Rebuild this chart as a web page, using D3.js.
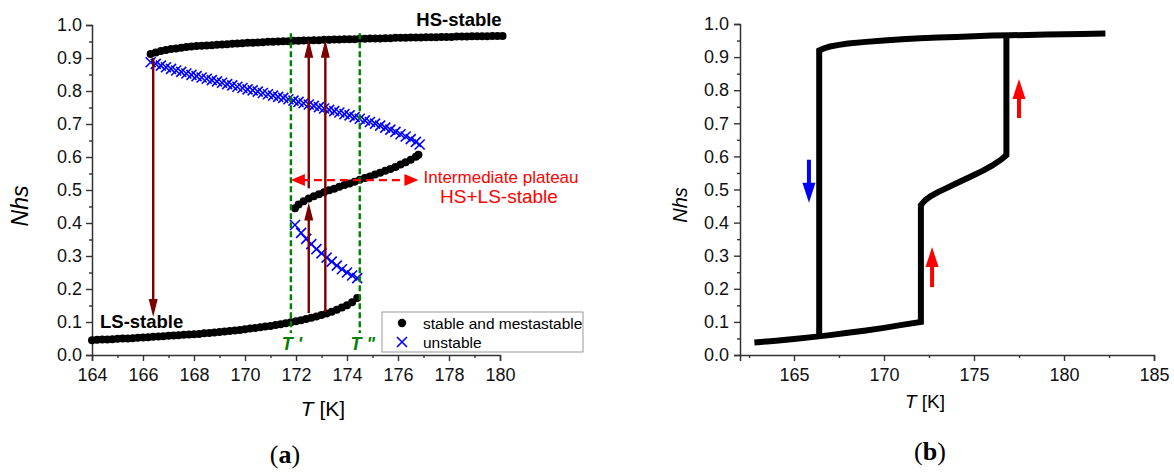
<!DOCTYPE html>
<html>
<head>
<meta charset="utf-8">
<script src="https://cdn.jsdelivr.net/npm/d3@7"></script>
<style>
  body { margin: 0; background: #fff; }
  text { font-family: "Liberation Sans", Arial, sans-serif; }
</style>
</head>
<body>
<script>
var width = 1174,
    height = 473;

// ---- panel (a) : model branches, [T, Nhs] ----
var hsStable = [
  [166.3,0.912],[166.5,0.917],[166.7,0.921],[166.9,0.924],[167.1,0.927],[167.3,0.929],[167.5,0.931],
  [167.7,0.933],[167.9,0.935],[168.1,0.936],[168.3,0.937],[168.5,0.938],[168.7,0.939],[168.9,0.940],
  [169.1,0.941],[169.3,0.942],[169.5,0.943],[169.7,0.944],[169.9,0.945],[170.1,0.946],[170.3,0.946],
  [170.5,0.947],[170.7,0.948],[170.9,0.949],[171.1,0.949],[171.3,0.950],[171.5,0.951],[171.7,0.951],
  [171.9,0.952],[172.1,0.952],[172.3,0.953],[172.5,0.953],[172.7,0.954],[172.9,0.954],[173.1,0.955],
  [173.3,0.955],[173.5,0.956],[173.7,0.956],[173.9,0.957],[174.1,0.957],[174.3,0.957],[174.5,0.958],
  [174.7,0.958],[174.9,0.959],[175.1,0.959],[175.3,0.959],[175.5,0.960],[175.7,0.960],[175.9,0.961],
  [176.1,0.961],[176.3,0.961],[176.5,0.962],[176.7,0.962],[176.9,0.962],[177.1,0.963],[177.3,0.963],
  [177.5,0.963],[177.7,0.964],[177.9,0.964],[178.1,0.964],[178.3,0.965],[178.5,0.965],[178.7,0.965],
  [178.9,0.966],[179.1,0.966],[179.3,0.966],[179.5,0.966],[179.7,0.967],[179.9,0.967],[180.1,0.967]
];

var lsStable = [
  [164.0,0.045],[164.2,0.046],[164.4,0.047],[164.6,0.047],[164.8,0.048],[165.0,0.049],[165.2,0.050],
  [165.4,0.050],[165.6,0.051],[165.8,0.052],[166.0,0.053],[166.2,0.054],[166.4,0.055],[166.6,0.056],
  [166.8,0.057],[167.0,0.058],[167.2,0.059],[167.4,0.060],[167.6,0.061],[167.8,0.062],[168.0,0.063],
  [168.2,0.064],[168.4,0.066],[168.6,0.067],[168.8,0.068],[169.0,0.070],[169.2,0.071],[169.4,0.073],
  [169.6,0.074],[169.8,0.076],[170.0,0.078],[170.2,0.080],[170.4,0.082],[170.6,0.084],[170.8,0.086],
  [171.0,0.088],[171.2,0.091],[171.4,0.093],[171.6,0.096],[171.8,0.099],[172.0,0.102],[172.2,0.105],
  [172.4,0.109],[172.6,0.113],[172.8,0.117],[173.0,0.121],[173.2,0.126],[173.4,0.131],[173.6,0.137],
  [173.8,0.144],[174.0,0.151],[174.2,0.160],[174.4,0.173]
];

var midStable = [
  [171.96,0.445],[172.1,0.456],[172.3,0.466],[172.5,0.474],[172.7,0.481],[172.9,0.487],[173.1,0.493],
  [173.3,0.499],[173.5,0.504],[173.7,0.510],[173.9,0.515],[174.1,0.520],[174.3,0.525],[174.5,0.531],
  [174.7,0.536],[174.9,0.541],[175.1,0.547],[175.3,0.552],[175.5,0.558],[175.7,0.564],[175.9,0.570],
  [176.1,0.577],[176.3,0.584],[176.5,0.592],[176.7,0.601],[176.8,0.607]
];

var unstableUpper = [
  [166.3,0.887],[166.5,0.882],[166.7,0.877],[166.9,0.872],[167.1,0.867],[167.3,0.862],[167.5,0.858],
  [167.7,0.853],[167.9,0.849],[168.1,0.845],[168.3,0.841],[168.5,0.837],[168.7,0.833],[168.9,0.829],
  [169.1,0.825],[169.3,0.821],[169.5,0.817],[169.7,0.813],[169.9,0.809],[170.1,0.805],[170.3,0.802],
  [170.5,0.798],[170.7,0.794],[170.9,0.790],[171.1,0.786],[171.3,0.782],[171.5,0.779],[171.7,0.775],
  [171.9,0.771],[172.1,0.767],[172.3,0.763],[172.5,0.759],[172.7,0.755],[172.9,0.751],[173.1,0.747],
  [173.3,0.743],[173.5,0.739],[173.7,0.735],[173.9,0.730],[174.1,0.726],[174.3,0.721],[174.5,0.716],
  [174.7,0.711],[174.9,0.706],[175.1,0.701],[175.3,0.695],[175.5,0.689],[175.7,0.683],[175.9,0.676],
  [176.1,0.669],[176.3,0.662],[176.5,0.654],[176.7,0.646],[176.85,0.638]
];

var unstableLower = [
  [171.96,0.394],[172.2,0.370],[172.4,0.352],[172.6,0.336],[172.8,0.321],[173.0,0.308],[173.2,0.295],
  [173.4,0.283],[173.6,0.271],[173.8,0.260],[174.0,0.250],[174.2,0.241],[174.4,0.233]
];

var tMarks = [171.8, 174.5];
var tMarkLabels = ["T '", 'T "'];
var transitions = [
  {t: 166.4, from: 0.90, to: 0.115},
  {t: 172.5, from: 0.127, to: 0.462},
  {t: 172.5, from: 0.505, to: 0.955},
  {t: 173.15, from: 0.13, to: 0.955}
];
var plateau = {from: 171.8, to: 176.8, n: 0.53};

// ---- panel (b) : simulated loop ----
var lsB = [
  [162.8,0.038],[163.5,0.041],[164,0.043],[165,0.048],[166,0.054],[167,0.060],[168,0.067],
  [169,0.074],[170,0.082],[171,0.091],[172.05,0.100]
];
var hsB = [
  [166.4,0.920],[166.6,0.925],[166.8,0.929],[167,0.932],[167.5,0.937],[168,0.941],[169,0.946],
  [170,0.950],[171,0.954],[172,0.957],[173,0.959],[174,0.961],[175,0.963],[176,0.965],
  [177,0.966],[178,0.967],[179,0.968],[180,0.969],[181,0.970],[182.3,0.971]
];
var dropB = [[166.4,0.057]];
var heatB = [
  [172.05,0.453],[172.3,0.468],[172.6,0.480],[173,0.492],[173.5,0.505],[174,0.518],[174.5,0.531],
  [175,0.544],[175.5,0.557],[176,0.572],[176.5,0.590],[176.8,0.604],[176.8,0.972]
];
var arrowsB = [
  {t: 165.83, from: 0.59, to: 0.46, dir: 'cool'},
  {t: 177.5, from: 0.716, to: 0.834, dir: 'heat'},
  {t: 172.67, from: 0.205, to: 0.326, dir: 'heat'}
];

var yTicks = [0, 0.1, 0.2, 0.3, 0.4, 0.5, 0.6, 0.7, 0.8, 0.9, 1.0];
var yMinor = [0.05, 0.15, 0.25, 0.35, 0.45, 0.55, 0.65, 0.75, 0.85, 0.95];
var xTicksA = [164, 166, 168, 170, 172, 174, 176, 178, 180];
var xMinorA = [165, 167, 169, 171, 173, 175, 177, 179];
var xTicksB = [165, 170, 175, 180, 185];
var xMinorB = [162.5, 167.5, 172.5, 177.5, 182.5];

var svg = d3.select('body').append('svg')
    .attr('width', width)
    .attr('height', height);

var xA = d3.scaleLinear().domain([164, 180]).range([92, 500]);
var yA = d3.scaleLinear().domain([0, 1]).range([355, 25]);
var xB = d3.scaleLinear().domain([162, 185]).range([740, 1154]);
var yB = d3.scaleLinear().domain([0, 1]).range([355, 24]);

var axisColor = '#333';

function styleAxis(g) {
  g.select('.domain').attr('stroke', axisColor).attr('stroke-width', 1.5);
  g.selectAll('.tick line').attr('stroke', axisColor).attr('stroke-width', 1.4);
  g.selectAll('.tick text').attr('fill', '#111').style('font-size', '18px')
    .style('font-family', '"Liberation Sans", Arial, sans-serif');
}

function drawAxes(x, y, xt, xm, yPad) {
  var gx = svg.append('g').attr('transform', 'translate(0,' + y.range()[0] + ')');
  gx.call(d3.axisBottom(x).tickValues(xt).tickSize(6).tickPadding(7).tickFormat(d3.format('d')));
  styleAxis(gx);
  var gxm = svg.append('g').attr('transform', 'translate(0,' + y.range()[0] + ')');
  gxm.call(d3.axisBottom(x).tickValues(xm).tickSize(3).tickFormat(''));
  styleAxis(gxm);
  gxm.select('.domain').remove();

  var gy = svg.append('g').attr('transform', 'translate(' + x.range()[0] + ',0)');
  gy.call(d3.axisLeft(y).tickValues(yTicks).tickSize(6).tickPadding(yPad).tickFormat(d3.format('.1f')));
  styleAxis(gy);
  var gym = svg.append('g').attr('transform', 'translate(' + x.range()[0] + ',0)');
  gym.call(d3.axisLeft(y).tickValues(yMinor).tickSize(3).tickFormat(''));
  styleAxis(gym);
  gym.select('.domain').remove();
}

drawAxes(xA, yA, xTicksA, xMinorA, 4);
drawAxes(xB, yB, xTicksB, xMinorB, 5);

// vertical arrow: line + filled head
function vArrow(g, px, py1, py2, color, sw, headLen, headW) {
  var s = py2 > py1 ? 1 : -1;
  g.append('line')
    .attr('x1', px).attr('x2', px)
    .attr('y1', py1).attr('y2', py2 - s * headLen * 0.8)
    .attr('stroke', color).attr('stroke-width', sw);
  g.append('path')
    .attr('d', 'M' + px + ',' + py2 + 'L' + (px - headW / 2) + ',' + (py2 - s * headLen) +
               'L' + (px + headW / 2) + ',' + (py2 - s * headLen) + 'Z')
    .attr('fill', color);
}

// ---------------- panel (a) ----------------
var gA = svg.append('g');

var crossPath = 'M-5,-5L5,5M-5,5L5,-5';

[unstableUpper, unstableLower].forEach(function(branch) {
  gA.selectAll(null).data(branch).enter().append('path')
    .attr('d', crossPath)
    .attr('transform', function(d) { return 'translate(' + xA(d[0]) + ',' + yA(d[1]) + ')'; })
    .attr('stroke', '#0000ff').attr('stroke-width', 1.6).attr('fill', 'none');
});

[hsStable, lsStable, midStable].forEach(function(branch) {
  gA.selectAll(null).data(branch).enter().append('circle')
    .attr('cx', function(d) { return xA(d[0]); })
    .attr('cy', function(d) { return yA(d[1]); })
    .attr('r', 4)
    .attr('fill', '#000');
});

// T' and T'' dashed markers
gA.selectAll(null).data(tMarks).enter().append('line')
  .attr('x1', function(d) { return xA(d); })
  .attr('x2', function(d) { return xA(d); })
  .attr('y1', yA(0.975)).attr('y2', yA(0.067))
  .attr('stroke', '#008000').attr('stroke-width', 2.4)
  .attr('stroke-dasharray', '6,3');

gA.selectAll(null).data(tMarks).enter().append('text')
  .attr('x', function(d, i) { return xA(d) + (i ? 3 : 1); })
  .attr('y', 350)
  .attr('text-anchor', 'middle')
  .style('font-size', '18px').style('font-weight', 'bold').style('font-style', 'italic')
  .attr('fill', '#008000')
  .text(function(d, i) { return tMarkLabels[i]; });

// transition arrows
transitions.forEach(function(a) {
  vArrow(gA, xA(a.t), yA(a.from), yA(a.to), '#7b0000', 2.4, 18, 9);
});

// intermediate plateau double arrow
var pY = yA(plateau.n), pX1 = xA(plateau.from), pX2 = xA(plateau.to);
gA.append('line')
  .attr('x1', pX1 + 10).attr('x2', pX2 - 10)
  .attr('y1', pY).attr('y2', pY)
  .attr('stroke', '#ff0000').attr('stroke-width', 2.4)
  .attr('stroke-dasharray', '8,5');
gA.append('path')
  .attr('d', 'M' + pX1 + ',' + pY + 'l14,-6l0,12Z M' + pX2 + ',' + pY + 'l-14,-6l0,12Z')
  .attr('fill', '#ff0000');

gA.append('text').attr('x', 501).attr('y', 183).attr('text-anchor', 'middle')
  .style('font-size', '17px').attr('fill', '#ff0000').text('Intermediate plateau');
gA.append('text').attr('x', 499).attr('y', 203).attr('text-anchor', 'middle')
  .style('font-size', '19px').attr('fill', '#ff0000').text('HS+LS-stable');

gA.append('text').attr('x', 459).attr('y', 26).attr('text-anchor', 'middle')
  .style('font-size', '18.5px').style('font-weight', 'bold').text('HS-stable');
gA.append('text').attr('x', 100).attr('y', 328)
  .style('font-size', '18.5px').style('font-weight', 'bold').text('LS-stable');

// legend
var leg = gA.append('g');
leg.append('rect').attr('x', 382).attr('y', 312).attr('width', 201).attr('height', 40)
  .attr('fill', '#fff').attr('stroke', '#999').attr('stroke-width', 1);
leg.append('circle').attr('cx', 402).attr('cy', 323).attr('r', 4.2).attr('fill', '#000');
leg.append('path').attr('d', crossPath).attr('transform', 'translate(402,342)')
  .attr('stroke', '#0000ff').attr('stroke-width', 1.6);
leg.append('text').attr('x', 423).attr('y', 328.5).style('font-size', '15.5px').text('stable and mestastable');
leg.append('text').attr('x', 423).attr('y', 347.5).style('font-size', '15.5px').text('unstable');

// axis titles (a)
svg.append('text').attr('transform', 'translate(28,206) rotate(-90)')
  .attr('text-anchor', 'middle').style('font-size', '23px').style('font-style', 'italic').text('Nhs');
var tA = svg.append('text').attr('x', 323).attr('y', 416).attr('text-anchor', 'middle').style('font-size', '21px');
tA.append('tspan').style('font-style', 'italic').text('T');
tA.append('tspan').text(' [K]');

// ---------------- panel (b) ----------------
var gB = svg.append('g');
var lineB = d3.line().x(function(d) { return xB(d[0]); }).y(function(d) { return yB(d[1]); });

var coolPath = hsB.slice().reverse().concat(dropB);
var heatPath = lsB.concat(heatB);

[coolPath, heatPath].forEach(function(p) {
  gB.append('path').attr('d', lineB(p))
    .attr('fill', 'none').attr('stroke', '#000').attr('stroke-width', 6)
    .attr('stroke-linejoin', 'miter');
});

var arrowColors = {cool: '#0000ff', heat: '#ff0000'};
arrowsB.forEach(function(a) {
  vArrow(gB, xB(a.t), yB(a.from), yB(a.to), arrowColors[a.dir], 4, 20, 13);
});

svg.append('text').attr('transform', 'translate(687,205) rotate(-90)')
  .attr('text-anchor', 'middle').style('font-size', '20px').style('font-style', 'italic').text('Nhs');
var tB = svg.append('text').attr('x', 925).attr('y', 408).attr('text-anchor', 'middle').style('font-size', '19px');
tB.append('tspan').style('font-style', 'italic').text('T');
tB.append('tspan').text(' [K]');

// sub-figure captions
[{x: 285, y: 463, l: 'a'}, {x: 930, y: 460, l: 'b'}].forEach(function(c) {
  var t = svg.append('text').attr('x', c.x).attr('y', c.y).attr('text-anchor', 'middle')
    .style('font-family', '"Liberation Serif", "DejaVu Serif", serif').style('font-size', '26px');
  t.append('tspan').text('(');
  t.append('tspan').style('font-weight', 'bold').text(c.l);
  t.append('tspan').text(')');
});
</script>
</body>
</html>
